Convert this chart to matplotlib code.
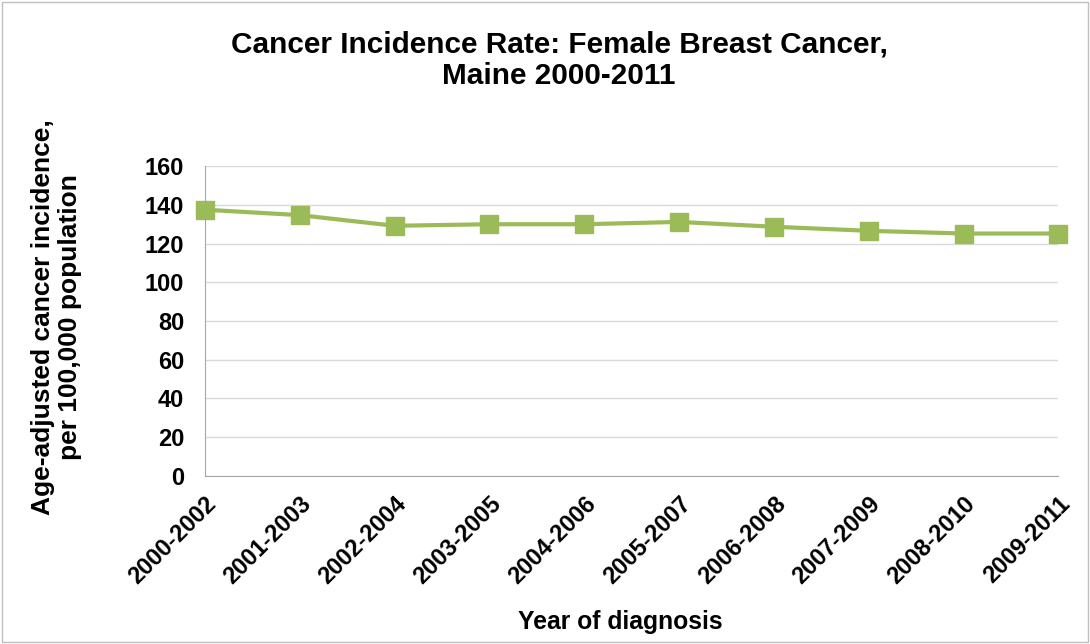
import matplotlib.pyplot as plt
from matplotlib.patches import Rectangle

periodos = ['2000-2002', '2001-2003', '2002-2004', '2003-2005', '2004-2006',
            '2005-2007', '2006-2008', '2007-2009', '2008-2010', '2009-2011']
taxas = [137.5, 134.7, 129.2, 130.0, 130.0, 131.2, 128.7, 126.6, 125.2, 125.2]
yticks = [0, 20, 40, 60, 80, 100, 120, 140, 160]

plt.rcParams['font.family'] = ['Liberation Sans', 'DejaVu Sans']
plt.rcParams['font.weight'] = 'bold'

fig = plt.figure(figsize=(10.9, 6.44), dpi=100)
ax = fig.add_axes([0.188, 0.261, 0.783, 0.481])

x = list(range(len(periodos)))
ax.plot(x, taxas, color='#9BBB59', linewidth=3, marker='s', markersize=13,
        clip_on=False, zorder=3)

ax.set_xlim(0, len(periodos) - 1)
ax.set_ylim(0, 160)
ax.set_yticks(yticks)
ax.set_xticks(x)
ax.set_xticklabels(periodos, rotation=45, ha='right', rotation_mode='anchor')
ax.tick_params(axis='y', labelsize=17, length=0, pad=15)
ax.tick_params(axis='x', labelsize=17, length=0, pad=12)
for lbl in ax.get_xticklabels() + ax.get_yticklabels():
    lbl.set_fontweight('bold')

ax.grid(axis='y', color='#D9D9D9', linewidth=1)
ax.set_axisbelow(True)
for s in ['top', 'right']:
    ax.spines[s].set_visible(False)
ax.spines['left'].set_color('#A6A6A6')
ax.spines['bottom'].set_color('#A6A6A6')

fig.text(0.513, 0.907, 'Cancer Incidence Rate: Female Breast Cancer,\nMaine 2000-2011',
         fontsize=21.4, fontweight='bold', ha='center', va='center', linespacing=1.15)
fig.text(0.569, 0.034, 'Year of diagnosis', fontsize=17.8, fontweight='bold',
         ha='center', va='center')
fig.text(0.052, 0.508, 'Age-adjusted cancer incidence,\nper 100,000 population',
         fontsize=19, fontweight='bold', ha='center', va='center',
         rotation=90, linespacing=1.15)

fig.patches.append(Rectangle((0.002, 0.003), 0.996, 0.994, transform=fig.transFigure,
                             fill=False, edgecolor='#BFBFBF', linewidth=1))

fig.savefig('out.png', dpi=100)
